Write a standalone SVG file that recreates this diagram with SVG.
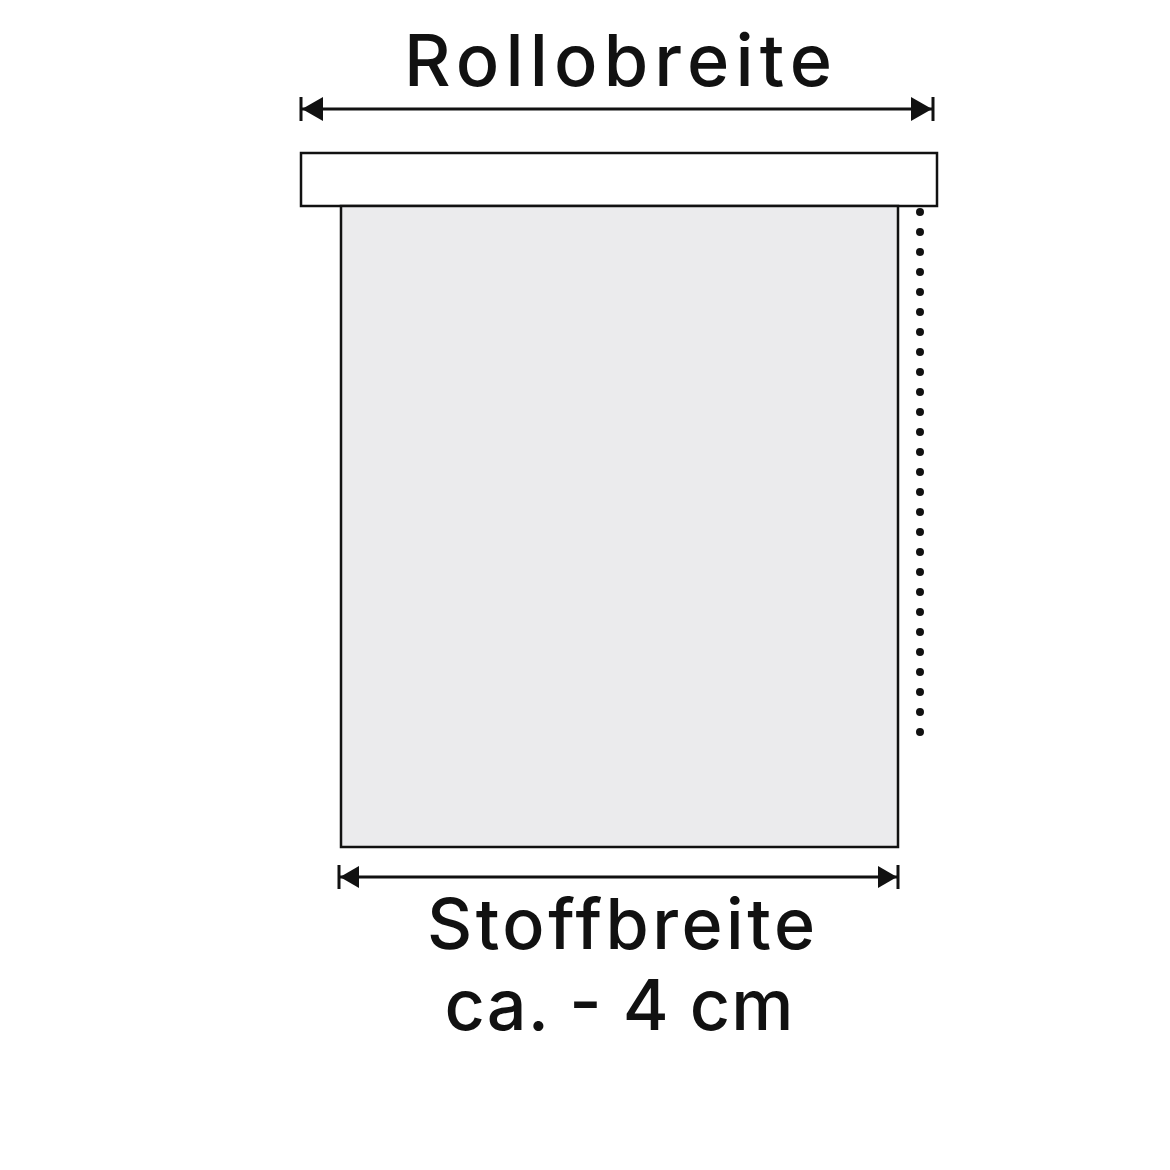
<svg xmlns="http://www.w3.org/2000/svg" width="1170" height="1170" viewBox="0 0 1170 1170">
<style>
.lbl{font-family:Inter,"Liberation Sans",Arial,sans-serif;font-weight:500;fill:#111;text-anchor:middle}
.ln{stroke:#111;stroke-width:3;fill:none}
.box{stroke:#111;stroke-width:2.5}
</style>
<defs>
<marker id="ah" viewBox="0 0 21 24" refX="21" refY="12" markerWidth="21" markerHeight="24" markerUnits="userSpaceOnUse" orient="auto-start-reverse">
<path d="M0,0 L21,12 L0,24 Z" fill="#111"/>
</marker>
<marker id="ah2" viewBox="0 0 19 22" refX="19" refY="11" markerWidth="19" markerHeight="22" markerUnits="userSpaceOnUse" orient="auto-start-reverse">
<path d="M0,0 L19,11 L0,22 Z" fill="#111"/>
</marker>
</defs>
<rect width="1170" height="1170" fill="#fff"/>
<g id="rollo-head">
<rect class="box" x="301" y="153" width="636" height="53" fill="#fff"/>
</g>
<g id="fabric">
<rect class="box" x="341" y="206" width="557" height="641" fill="#ebebed"/>
</g>
<g id="chain">
<line x1="920" y1="212" x2="920" y2="733" stroke="#111" stroke-width="8" stroke-linecap="round" stroke-dasharray="0 20"/>
</g>
<g id="connectors">
<line class="ln" x1="301" y1="97" x2="301" y2="121"/>
<line class="ln" x1="933" y1="97" x2="933" y2="121"/>
<line class="ln" x1="302" y1="109" x2="932" y2="109" marker-start="url(#ah)" marker-end="url(#ah)"/>
<line class="ln" x1="339" y1="865" x2="339" y2="889"/>
<line class="ln" x1="898" y1="865" x2="898" y2="889"/>
<line class="ln" x1="340" y1="877" x2="897" y2="877" marker-start="url(#ah2)" marker-end="url(#ah2)"/>
</g>
<g id="label-rollobreite">
<text class="lbl" x="618" y="86" font-size="72" textLength="428" lengthAdjust="spacing">Rollobreite</text>
</g>
<g id="label-stoffbreite">
<text class="lbl" x="621" y="949" font-size="70" textLength="388" lengthAdjust="spacing">Stoffbreite</text>
<text class="lbl" x="619" y="1030" font-size="70" textLength="349" lengthAdjust="spacing">ca. - 4 cm</text>
</g>
</svg>
